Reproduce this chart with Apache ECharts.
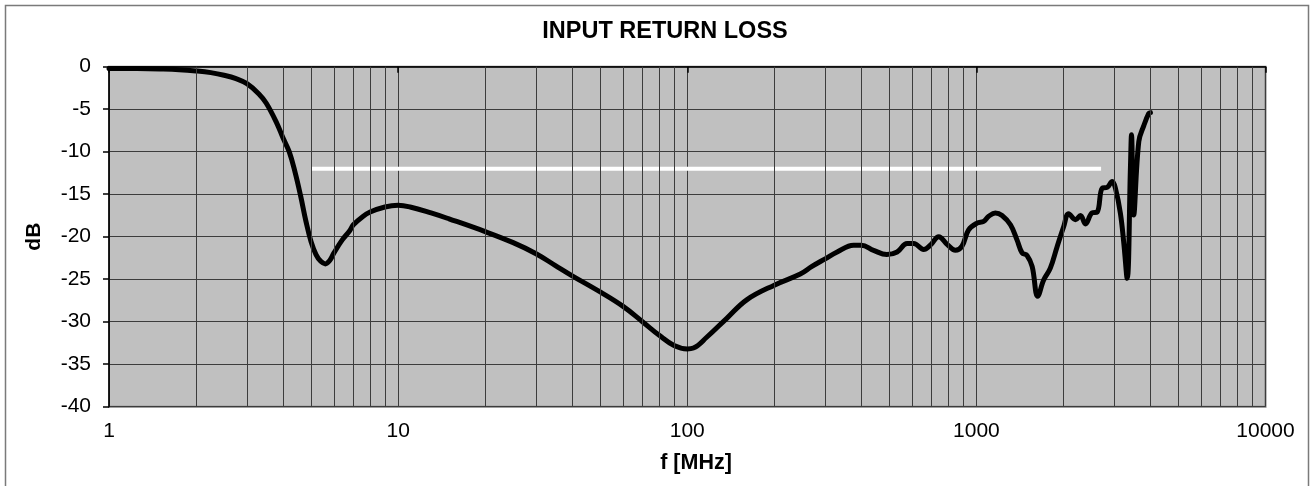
<!DOCTYPE html>
<html>
<head>
<meta charset="utf-8">
<script src="https://cdn.jsdelivr.net/npm/echarts@6/dist/echarts.min.js"></script>
<style>
html,body{margin:0;padding:0;background:#fff;}
#chart{width:1314px;height:486px;}
</style>
</head>
<body>
<div id="chart"></div>
<script>
// Frequency (MHz) and return loss (dB)
var freqMHz = [1, 1.25, 1.5, 1.75, 2, 2.25, 2.5, 2.75, 3, 3.3, 3.5, 3.8, 4, 4.2, 4.4, 4.6, 4.8, 5.0, 5.2, 5.4, 5.6, 5.8, 6.0, 6.4, 6.8, 7, 7.5, 8, 9, 10, 11, 13, 15, 20, 25, 30, 35, 40, 50, 60, 70, 80, 90, 100, 105, 117, 137, 161, 200, 246, 270, 300, 330, 376, 400, 441, 490, 532, 576, 607, 657, 693, 741, 792, 846, 892, 940, 1005, 1060, 1103, 1163, 1227, 1312, 1383, 1439, 1497, 1559, 1630, 1709, 1802, 1901, 2005, 2085, 2202, 2291, 2384, 2513, 2617, 2723, 2833, 2950, 3027, 3149, 3236, 3323, 3411, 3440, 3500, 3646, 3797, 3947, 4000];
var lossDB = [-0.2, -0.22, -0.27, -0.35, -0.5, -0.7, -1.0, -1.4, -2.0, -3.2, -4.3, -6.6, -8.4, -10, -12.4, -15.2, -18.2, -20.6, -22.1, -22.9, -23.2, -22.8, -21.9, -20.4, -19.3, -18.6, -17.7, -17.1, -16.5, -16.3, -16.5, -17.2, -17.9, -19.4, -20.7, -22.0, -23.4, -24.6, -26.5, -28.2, -30.0, -31.6, -32.8, -33.2, -33.1, -31.8, -29.6, -27.4, -25.7, -24.4, -23.5, -22.6, -21.8, -21.0, -21.0, -21.6, -22.1, -21.8, -20.8, -20.8, -21.5, -21.0, -20.0, -20.9, -21.6, -21.1, -19.2, -18.4, -18.2, -17.6, -17.2, -17.5, -18.6, -20.4, -21.9, -22.2, -23.5, -27.0, -25.1, -23.7, -21.2, -18.8, -17.3, -18.0, -17.5, -18.5, -17.2, -17.1, -14.3, -14.2, -13.5, -14.3, -17.25, -20.8, -24.9, -11.8, -8.0, -17.45, -8.8, -6.9, -5.5, -5.4];
// Limit line (white)
var limitFreq = [5, 2700];
var limitDB = [-12, -12];
// Minor vertical grid positions
var minorGridFreq = [2,3,4,5,6,7,8,9,20,30,40,50,60,70,80,90,200,300,400,500,600,700,800,900,2000,3000,4000,5000,6000,7000,8000,9000];
var yTicks = {min: -40, max: 0, interval: 5};
var xRange = {min: 1, max: 10000};

var FONT = "'Liberation Sans', Arial, sans-serif";
var gridColor = '#3c3c3c';

var chart = echarts.init(document.getElementById('chart'), null, {renderer: 'canvas'});
var curve = freqMHz.map(function (f, i) { return [f, lossDB[i]]; });
var limit = limitFreq.map(function (f, i) { return [f, limitDB[i]]; });

chart.setOption({
  animation: false,
  backgroundColor: '#ffffff',
  grid: {
    left: 109, right: 48.5, top: 66.7, bottom: 79.3,
    show: true, backgroundColor: '#c0c0c0', borderColor: '#808080', borderWidth: 2
  },
  xAxis: {
    type: 'log', logBase: 10, min: xRange.min, max: xRange.max,
    axisLine: {show: true, lineStyle: {color: '#000', width: 1.5}},
    axisTick: {show: true, length: 6, lineStyle: {color: '#000', width: 1.5}},
    axisLabel: {color: '#000', fontFamily: FONT, fontSize: 21, margin: 14,
      formatter: function (v) { return String(Math.round(v)); }},
    splitLine: {show: true, lineStyle: {color: gridColor, width: 1}}
  },
  yAxis: {
    type: 'value', min: yTicks.min, max: yTicks.max, interval: yTicks.interval,
    axisLine: {show: true, lineStyle: {color: '#000', width: 1.5}},
    axisTick: {show: true, length: 6, lineStyle: {color: '#000', width: 1.5}},
    axisLabel: {color: '#000', fontFamily: FONT, fontSize: 21, margin: 18},
    splitLine: {show: true, lineStyle: {color: gridColor, width: 1}},
    name: 'dB', nameLocation: 'middle', nameGap: 64, nameRotate: 90,
    nameTextStyle: {color: '#000', fontFamily: FONT, fontSize: 21, fontWeight: 'bold'}
  },
  graphic: [
    {type: 'rect', silent: true, z: -10, shape: {x: 5.5, y: 5.5, width: 1303, height: 500},
     style: {fill: 'none', stroke: '#7a7a7a', lineWidth: 1.5}},
    {type: 'text', silent: true, style: {
      text: 'INPUT RETURN LOSS', x: 665, y: 32, align: 'center', verticalAlign: 'middle',
      font: 'bold 23.5px ' + FONT, fill: '#000'}},
    {type: 'text', silent: true, style: {
      text: 'f [MHz]', x: 696, y: 463, align: 'center', verticalAlign: 'middle',
      font: 'bold 21.5px ' + FONT, fill: '#000'}}
  ],
  series: [
    {
      type: 'line', data: [], z: 1, silent: true,
      markLine: {
        silent: true, symbol: ['none', 'none'], label: {show: false},
        lineStyle: {color: gridColor, width: 1, type: 'solid'},
        emphasis: {disabled: true},
        data: minorGridFreq.map(function (f) { return {xAxis: f}; })
      }
    },
    {
      type: 'line', data: limit, z: 2, silent: true, showSymbol: false, symbol: 'none',
      lineStyle: {color: '#ffffff', width: 4, cap: 'butt'}
    },
    {
      type: 'line', data: curve, z: 3, silent: true, showSymbol: false, symbol: 'none',
      smooth: 0.4,
      lineStyle: {color: '#000000', width: 5, join: 'round', cap: 'round'}
    }
  ]
});
</script>
</body>
</html>
